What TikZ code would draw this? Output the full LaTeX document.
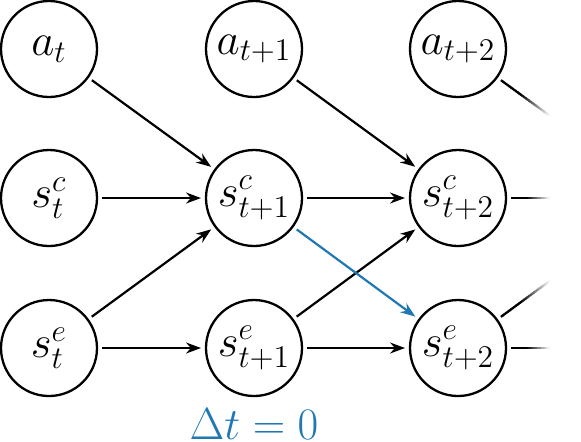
\RequirePackage{fix-cm}
\documentclass[tikz,border=0pt]{standalone}
\usetikzlibrary{arrows.meta,calc}
\definecolor{mplblue}{RGB}{31,119,180}
\newcommand{\fadestub}[2]{%
  \foreach \i in {0,...,29}{%
    \pgfmathsetmacro{\fa}{\i/30}%
    \pgfmathsetmacro{\fb}{min(1,(\i+1.4)/30)}%
    \pgfmathsetmacro{\cc}{min(100,(1-(\i+0.5)/30)/0.6*100)}%
    \draw[stubline, black!\cc] ($(#1)!\fa!(#2)$) -- ($(#1)!\fb!(#2)$);
  }}
\begin{document}
\begin{tikzpicture}[x=0.5pt,y=-0.5pt,
  var/.style={circle,draw,line width=1.15pt,minimum size=48pt,inner sep=0pt,outer sep=2.5pt,font=\fontsize{22.5}{27}\selectfont},
  edge/.style={line width=1.1pt,-{Stealth[length=7.5pt,width=5.5pt,inset=2.5pt]}},
  stubline/.style={line width=1.1pt},
  ]
\useasboundingbox (0,0) rectangle (581,441);
% nodes
\node[var] (a0) at (49,49) {$a_t$};
\node[var] (a1) at (254,49) {$a_{t+1}$};
\node[var] (a2) at (458,49) {$a_{t+2}$};
\node[var] (c0) at (49,198) {$s^c_t$};
\node[var] (c1) at (254,198) {$s^c_{t+1}$};
\node[var] (c2) at (458,198) {$s^c_{t+2}$};
\node[var] (e0) at (49,348) {$s^e_t$};
\node[var] (e1) at (254,348) {$s^e_{t+1}$};
\node[var] (e2) at (458,348) {$s^e_{t+2}$};
% edges
\draw[edge] (a0) -- (c1);
\draw[edge] (c0) -- (c1);
\draw[edge] (e0) -- (c1);
\draw[edge] (e0) -- (e1);
\draw[edge] (a1) -- (c2);
\draw[edge] (c1) -- (c2);
\draw[edge] (e1) -- (c2);
\draw[edge] (e1) -- (e2);
\draw[edge, mplblue] (c1) -- (e2);
% fading stubs
\coordinate (sa) at ($(a2.center)!0.449!(663,198)$);
\coordinate (sc) at (550,198);
\coordinate (se) at (550,348);
\coordinate (sd) at ($(e2.center)!0.449!(663,198)$);
\fadestub{a2.-36.1}{sa}
\fadestub{c2.east}{sc}
\fadestub{e2.east}{se}
\fadestub{e2.36.1}{sd}
% label
\node[anchor=base, font=\fontsize{22.5}{27}\selectfont, text=mplblue] (dt) at (254,439) {$\Delta t = 0$};
\end{tikzpicture}
\end{document}
